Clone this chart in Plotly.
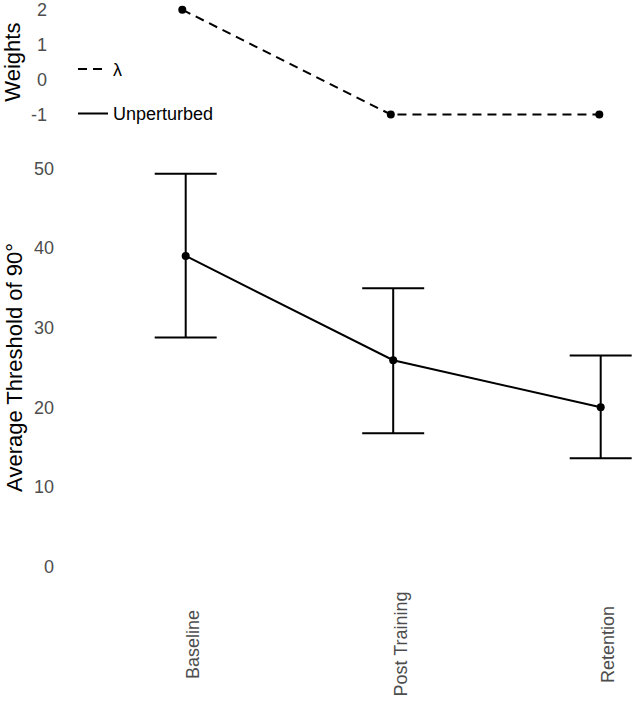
import plotly.graph_objects as go

# ---- data ----
categories = ["Baseline", "Post Training", "Retention"]
lambda_weights = [2, -1, -1]
threshold_mean = [39.0, 25.9, 20.0]
threshold_upper = [49.3, 34.95, 26.5]
threshold_lower = [28.75, 16.75, 13.6]
weight_ticks = [-1, 0, 1, 2]
weight_tick_labels = ["-1", "0", "1", "2"]
threshold_ticks = [0, 10, 20, 30, 40, 50]
legend_names = ["λ", "Unperturbed"]
y_titles = ["Weights", "Average Threshold of 90°"]

W, H = 636, 703
FONT = "Liberation Sans, Arial, sans-serif"
TICK_COL = "#4D4D4D"


def px_range(dom_start_px, first_px, last_px, n, total_px):
    ppu = (last_px - first_px) / (n - 1)
    r0 = -(first_px - dom_start_px) / ppu
    r1 = (n - 1) + (total_px - last_px) / ppu
    return [r0, r1]


fig = go.Figure()

# top panel: lambda weights
fig.add_trace(go.Scatter(
    x=categories, y=lambda_weights, mode="lines", name=legend_names[0],
    line=dict(color="black", width=2, dash="9px,6px"),
    legendgroup="a", xaxis="x2", yaxis="y2", cliponaxis=False))
fig.add_trace(go.Scatter(
    x=categories, y=lambda_weights, mode="markers", showlegend=False,
    marker=dict(color="black", size=8), xaxis="x2", yaxis="y2", cliponaxis=False))

# bottom panel: thresholds
err_plus = [u - m for u, m in zip(threshold_upper, threshold_mean)]
err_minus = [m - l for m, l in zip(threshold_mean, threshold_lower)]
fig.add_trace(go.Scatter(
    x=categories, y=threshold_mean, mode="lines", name=legend_names[1],
    line=dict(color="black", width=2), legendgroup="b", cliponaxis=False))
fig.add_trace(go.Scatter(
    x=categories, y=threshold_mean, mode="markers", showlegend=False,
    marker=dict(color="black", size=8),
    error_y=dict(type="data", symmetric=False, array=err_plus, arrayminus=err_minus,
                 color="black", thickness=2, width=31),
    cliponaxis=False))

axis_common = dict(showgrid=False, zeroline=False, showline=False, ticks="")

fig.update_layout(
    width=W, height=H,
    margin=dict(l=0, r=0, t=0, b=0),
    paper_bgcolor="white", plot_bgcolor="white",
    font=dict(family=FONT, color="black"),
    xaxis=dict(domain=[55 / W, 1], type="category", categoryarray=categories,
               range=px_range(55, 185.7, 600.7, 3, W), anchor="y",
               showticklabels=False, **axis_common),
    yaxis=dict(domain=[1 - 588 / H, 1 - 148 / H], range=[-2.5, 52.5],
               tickvals=threshold_ticks, anchor="x", ticklabeloverflow="allow",
               tickfont=dict(size=18, color=TICK_COL),
               title=dict(text=y_titles[1], font=dict(size=22, color="black"), standoff=5),
               **axis_common),
    xaxis2=dict(domain=[48 / W, 1], type="category", categoryarray=categories,
                range=px_range(48, 182.3, 599.3, 3, W), anchor="y2",
                showticklabels=False, **axis_common),
    yaxis2=dict(domain=[1 - 122.75 / H, 1], range=[-1.25, 2.25],
                tickvals=weight_ticks, ticktext=weight_tick_labels, anchor="x2",
                ticklabeloverflow="allow",
                tickfont=dict(size=18, color=TICK_COL),
                title=dict(text=y_titles[0], font=dict(size=22, color="black"), standoff=5),
                **axis_common),
    legend=dict(x=73 / W, y=1 - 50 / H, xanchor="left", yanchor="top",
                bgcolor="rgba(0,0,0,0)", font=dict(size=18, color="black"),
                traceorder="grouped", tracegroupgap=18),
    showlegend=True,
)

for cat in categories:
    fig.add_annotation(x=cat, xref="x", y=1 - 646 / H, yref="paper",
                       xanchor="center", yanchor="middle",
                       text=cat, textangle=-90, showarrow=False, xshift=8,
                       font=dict(size=18, color=TICK_COL))

fig.write_html("out.html")
